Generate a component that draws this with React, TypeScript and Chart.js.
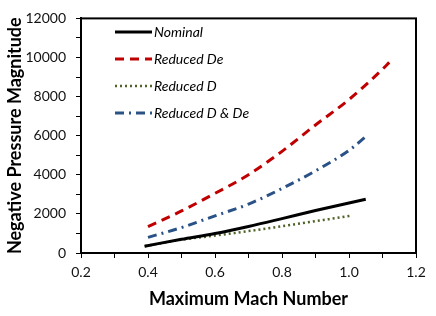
import React, { useEffect, useRef } from "react";
import { Chart, registerables } from "chart.js";

Chart.register(...registerables);

const nominalMach = [0.39, 0.5, 0.6, 0.7, 0.8, 0.9, 1.0, 1.05];
const nominalPressure = [350, 700, 1000, 1360, 1760, 2170, 2560, 2750];

const reducedDeMach = [0.4, 0.5, 0.6, 0.7, 0.8, 0.9, 1.0, 1.1, 1.12];
const reducedDePressure = [1350, 2150, 3050, 4000, 5200, 6550, 7850, 9400, 9750];

const reducedDMach = [0.39, 0.5, 0.6, 0.7, 0.8, 0.9, 1.0, 1.01];
const reducedDPressure = [350, 680, 890, 1120, 1370, 1630, 1890, 1920];

const reducedDDeMach = [0.4, 0.5, 0.6, 0.7, 0.8, 0.9, 1.0, 1.05];
const reducedDDePressure = [800, 1300, 1900, 2500, 3300, 4200, 5250, 5950];

const seriesNames = ["Nominal", "Reduced De", "Reduced D", "Reduced D & De"];
const seriesColors = ["#000000", "#C00000", "#4F6228", "#2A5286"];
const seriesDashes: number[][] = [[], [9, 6], [2, 3], [9, 5, 2, 5]];
const seriesWidths = [3, 3, 2.5, 3];

const xTitle = "Maximum Mach Number";
const yTitle = "Negative Pressure Magnitude";

const FONT = "Lato, 'Liberation Sans', sans-serif";

function pts(xs: number[], ys: number[]) {
  return xs.map((x, i) => ({ x, y: ys[i] }));
}

const legendPlugin = {
  id: "customLegend",
  afterDraw(chart: any) {
    const ctx = chart.ctx;
    ctx.save();
    const a = chart.chartArea;
    ctx.strokeStyle = "#000";
    ctx.lineWidth = 2;
    ctx.setLineDash([]);
    ctx.strokeRect(a.left, a.top, a.right - a.left, a.bottom - a.top);
    const x0 = 115;
    const x1 = 152;
    const rows = [32, 59, 86, 113];
    seriesNames.forEach((name, i) => {
      const y = rows[i];
      ctx.beginPath();
      ctx.strokeStyle = seriesColors[i];
      ctx.lineWidth = seriesWidths[i];
      ctx.setLineDash(seriesDashes[i]);
      ctx.moveTo(x0, y);
      ctx.lineTo(x1, y);
      ctx.stroke();
      ctx.setLineDash([]);
      ctx.fillStyle = "#000";
      ctx.font = `italic 14px ${FONT}`;
      ctx.textBaseline = "middle";
      ctx.textAlign = "left";
      ctx.fillText(name, x1 + 2, y);
    });
    ctx.restore();
  },
};

export default function App() {
  const ref = useRef<HTMLCanvasElement | null>(null);
  useEffect(() => {
    document.body.style.margin = "0";
    if (!ref.current) return;
    const datasets = [
      pts(nominalMach, nominalPressure),
      pts(reducedDeMach, reducedDePressure),
      pts(reducedDMach, reducedDPressure),
      pts(reducedDDeMach, reducedDDePressure),
    ].map((data, i) => ({
      label: seriesNames[i],
      data,
      borderColor: seriesColors[i],
      backgroundColor: seriesColors[i],
      borderWidth: seriesWidths[i],
      borderDash: seriesDashes[i],
      pointRadius: 0,
      cubicInterpolationMode: "monotone",
      fill: false,
    }));
    const chart = new Chart(ref.current, {
      type: "line",
      data: { datasets },
      plugins: [legendPlugin],
      options: {
        animation: false,
        responsive: false,
        layout: { padding: { left: 0, top: 9, right: 20, bottom: 0 } },
        plugins: { legend: { display: false }, tooltip: { enabled: false } },
        scales: {
          x: {
            type: "linear",
            min: 0.2,
            max: 1.2,
            afterFit: (s: any) => {
              s.height = 63;
            },
            ticks: {
              stepSize: 0.1,
              autoSkip: false,
              maxRotation: 0,
              padding: 6,
              color: "#111",
              font: { family: FONT, size: 14 },
              callback: (v: any) => {
                const n = Math.round(Number(v) * 10);
                return n % 2 === 0 ? (n / 10).toFixed(1) : "";
              },
            },
            grid: { drawOnChartArea: false, drawTicks: true, tickLength: 5, color: "#000", lineWidth: 1 },
            border: { display: true, color: "#000", width: 2 },
            title: {
              display: true,
              text: xTitle,
              color: "#000",
              font: { family: FONT, size: 18, weight: "bold" },
              padding: { top: 0, bottom: 6 },
            },
          },
          y: {
            type: "linear",
            min: 0,
            max: 12000,
            afterFit: (s: any) => {
              s.width = 81;
            },
            ticks: {
              stepSize: 1000,
              autoSkip: false,
              padding: 10,
              color: "#111",
              font: { family: FONT, size: 14 },
              callback: (v: any) => {
                const n = Math.round(Number(v));
                return n % 2000 === 0 ? String(n) : "";
              },
            },
            grid: { drawOnChartArea: false, drawTicks: true, tickLength: 5, color: "#000", lineWidth: 1 },
            border: { display: true, color: "#000", width: 2 },
            title: {
              display: true,
              text: yTitle,
              color: "#000",
              font: { family: FONT, size: 18, weight: "bold" },
              padding: { top: 4, bottom: 0 },
            },
          },
        },
      },
    } as any);
    return () => chart.destroy();
  }, []);
  return (
    <div style={{ width: 436, height: 316, position: "relative" }}>
      <canvas ref={ref} width={436} height={316} />
    </div>
  );
}
